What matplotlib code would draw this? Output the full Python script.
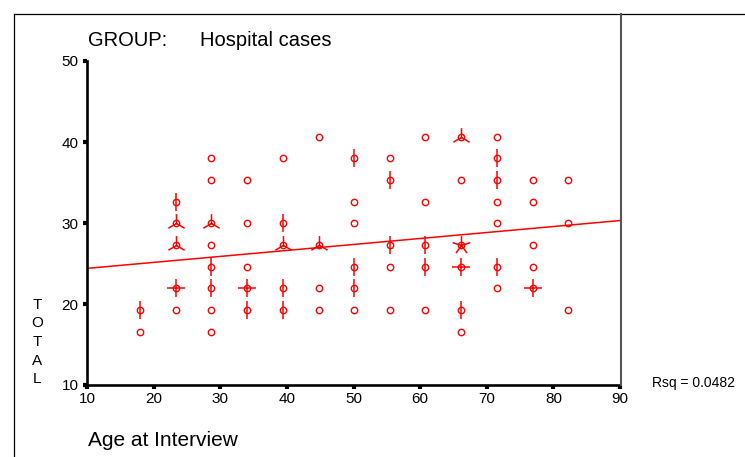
import numpy as np
import matplotlib.pyplot as plt
from matplotlib.path import Path
from matplotlib.lines import Line2D

plt.rcParams['font.family'] = ['Liberation Sans', 'DejaVu Sans']

# data: one entry per sunflower (age column, total level, number of cases)
ages = [17.9, 17.9,
        23.3, 23.3, 23.3, 23.3, 23.3,
        28.6, 28.6, 28.6, 28.6, 28.6, 28.6, 28.6, 28.6,
        34.0, 34.0, 34.0, 34.0, 34.0,
        39.4, 39.4, 39.4, 39.4, 39.4,
        44.8, 44.8, 44.8, 44.8,
        50.1, 50.1, 50.1, 50.1, 50.1, 50.1,
        55.5, 55.5, 55.5, 55.5, 55.5,
        60.8, 60.8, 60.8, 60.8, 60.8,
        66.2, 66.2, 66.2, 66.2, 66.2, 66.2,
        71.5, 71.5, 71.5, 71.5, 71.5, 71.5, 71.5,
        76.9, 76.9, 76.9, 76.9, 76.9,
        82.2, 82.2, 82.2]
totals = [19.3, 16.5,
          32.6, 30.0, 27.3, 22.0, 19.3,
          38.0, 35.3, 30.0, 27.3, 24.6, 22.0, 19.3, 16.5,
          35.3, 30.0, 24.6, 22.0, 19.3,
          38.0, 30.0, 27.3, 22.0, 19.3,
          40.6, 27.3, 22.0, 19.3,
          38.0, 32.6, 30.0, 24.6, 22.0, 19.3,
          38.0, 35.3, 27.3, 24.6, 19.3,
          40.6, 32.6, 27.3, 24.6, 19.3,
          40.6, 35.3, 27.3, 24.6, 19.3, 16.5,
          40.6, 38.0, 35.3, 32.6, 30.0, 24.6, 22.0,
          35.3, 32.6, 27.3, 24.6, 22.0,
          35.3, 30.0, 19.3]
counts = [2, 1,
          2, 3, 3, 4, 1,
          1, 1, 3, 1, 2, 2, 1, 1,
          1, 1, 1, 4, 2,
          1, 2, 3, 2, 2,
          1, 3, 1, 1,
          2, 1, 1, 2, 2, 1,
          1, 2, 2, 1, 1,
          1, 1, 2, 2, 1,
          3, 1, 5, 4, 2, 1,
          1, 2, 2, 1, 1, 2, 1,
          1, 1, 1, 1, 4,
          1, 1, 1]

# fitted line
fit_intercept = 23.66
fit_slope = 0.0738
rsq = 0.0482

x_ticks = [10, 20, 30, 40, 50, 60, 70, 80, 90]
y_ticks = [10, 20, 30, 40, 50]

red = '#ff0000'


def petal_marker(n):
    # lines from the centre, first petal pointing up
    if n == 2:
        return Path([(0, -1), (0, 1)], [Path.MOVETO, Path.LINETO])
    verts, codes = [], []
    for k in range(n):
        a = np.pi / 2 + 2 * np.pi * k / n
        verts += [(0, 0), (np.cos(a), np.sin(a))]
        codes += [Path.MOVETO, Path.LINETO]
    return Path(verts, codes)


fig = plt.figure(figsize=(7.45, 4.57), dpi=100)
W, H = 745, 457
ax = fig.add_axes([87 / W, 1 - 385 / H, (620 - 87) / W, (385 - 61) / H])

ages_a = np.array(ages)
totals_a = np.array(totals)
counts_a = np.array(counts)

# regression line
xs = np.array([10, 90])
ax.plot(xs, fit_intercept + fit_slope * xs, color=red, lw=1.1, zorder=2)

# circles
ax.plot(ages_a, totals_a, 'o', ms=4.6, mfc='none', mec=red, mew=1.0, zorder=3)

# petals
for n in sorted(set(counts)):
    if n < 2:
        continue
    m = counts_a == n
    ax.plot(ages_a[m], totals_a[m], linestyle='none', marker=petal_marker(n),
            ms=13.5, mec=red, mew=1.1, zorder=3)

ax.set_xlim(10, 90)
ax.set_ylim(10, 50)
ax.set_xticks(x_ticks)
ax.set_yticks(y_ticks)
ax.tick_params(length=3, width=3, color='black', labelsize=11, pad=2)
ax.tick_params(axis='y', pad=3)

for s in ['top', 'right']:
    ax.spines[s].set_visible(False)
for s in ['left', 'bottom']:
    ax.spines[s].set_linewidth(1.9)
    ax.spines[s].set_color('black')

# frame lines of the chart
fig.add_artist(Line2D([14 / W, 1], [1 - 14 / H, 1 - 14 / H], transform=fig.transFigure,
                      color='black', lw=0.9))
fig.add_artist(Line2D([14 / W, 14 / W], [0, 1 - 14 / H], transform=fig.transFigure,
                      color='black', lw=0.9))
fig.add_artist(Line2D([621 / W, 621 / W], [1 - 385 / H, 1 - 14 / H], transform=fig.transFigure,
                      color='#555555', lw=1.5))

fig.text(88 / W, 1 - 40 / H, 'GROUP:', fontsize=14.5, va='center', ha='left')
fig.text(200 / W, 1 - 40 / H, 'Hospital cases', fontsize=14.5, va='center', ha='left')
fig.text(88 / W, 1 - 441 / H, 'Age at Interview', fontsize=15, va='center', ha='left')
fig.text(37 / W, 1 - 342 / H, 'T\nO\nT\nA\nL', fontsize=11, va='center', ha='center',
         linespacing=1.42)
fig.text(652 / W, 1 - 383 / H, 'Rsq = %.4f' % rsq, fontsize=10, va='center', ha='left')

fig.savefig('out.png', dpi=100)
